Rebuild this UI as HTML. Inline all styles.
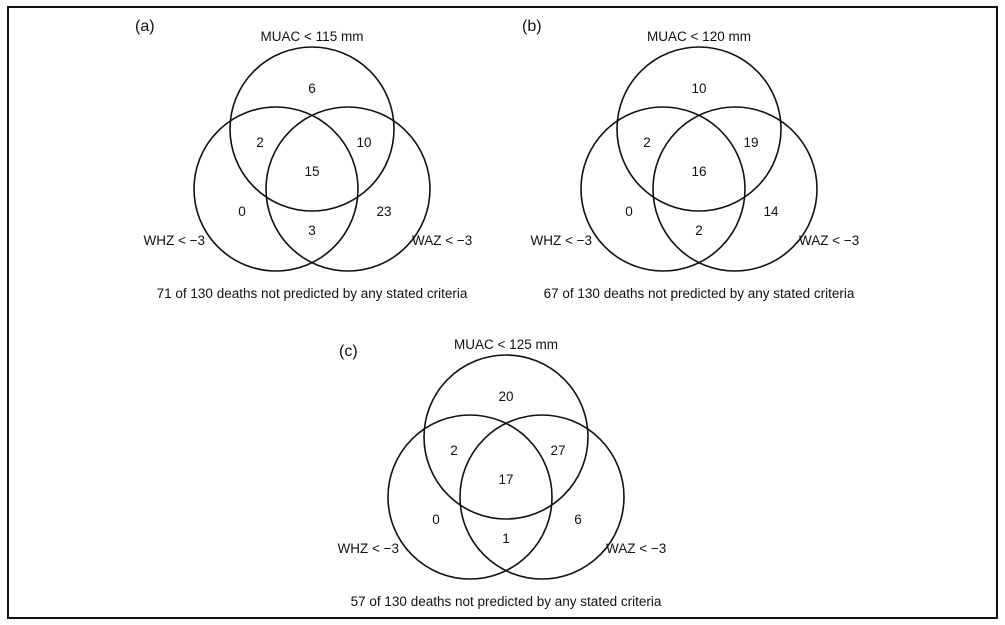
<!DOCTYPE html>
<html><head><meta charset="utf-8"><style>
body{margin:0;background:#fff}
svg{display:block}
text{font-family:"Liberation Sans",Arial,sans-serif;font-size:13.5px;fill:#111}
</style></head><body>
<svg width="1005" height="625" viewBox="0 0 1005 625">
<rect x="8" y="7" width="989" height="611" fill="#fff" stroke="#111" stroke-width="2"/>
<defs>
<g id="v" fill="none" stroke="#111" stroke-width="1.6">
<circle cx="312" cy="129" r="82"/>
<circle cx="276" cy="189" r="82"/>
<circle cx="348" cy="189" r="82"/>
</g>
</defs>
<!-- (a) -->
<g>
<use href="#v"/>
<text x="135" y="31" style="font-size:16px">(a)</text>
<text x="312" y="41" text-anchor="middle">MUAC &lt; 115 mm</text>
<text x="312" y="93" text-anchor="middle">6</text>
<text x="260" y="147" text-anchor="middle">2</text>
<text x="364" y="147" text-anchor="middle">10</text>
<text x="312" y="176" text-anchor="middle">15</text>
<text x="242" y="216" text-anchor="middle">0</text>
<text x="312" y="235" text-anchor="middle">3</text>
<text x="384" y="216" text-anchor="middle">23</text>
<text x="205" y="245" text-anchor="end">WHZ &lt; −3</text>
<text x="412" y="245">WAZ &lt; −3</text>
<text x="312" y="298" text-anchor="middle">71 of 130 deaths not predicted by any stated criteria</text>
</g>
<!-- (b) -->
<g transform="translate(387,0)">
<use href="#v"/>
<text x="135" y="31" style="font-size:16px">(b)</text>
<text x="312" y="41" text-anchor="middle">MUAC &lt; 120 mm</text>
<text x="312" y="93" text-anchor="middle">10</text>
<text x="260" y="147" text-anchor="middle">2</text>
<text x="364" y="147" text-anchor="middle">19</text>
<text x="312" y="176" text-anchor="middle">16</text>
<text x="242" y="216" text-anchor="middle">0</text>
<text x="312" y="235" text-anchor="middle">2</text>
<text x="384" y="216" text-anchor="middle">14</text>
<text x="205" y="245" text-anchor="end">WHZ &lt; −3</text>
<text x="412" y="245">WAZ &lt; −3</text>
<text x="312" y="298" text-anchor="middle">67 of 130 deaths not predicted by any stated criteria</text>
</g>
<!-- (c) -->
<g transform="translate(194,308)">
<use href="#v"/>
<text x="145" y="48" style="font-size:16px">(c)</text>
<text x="312" y="41" text-anchor="middle">MUAC &lt; 125 mm</text>
<text x="312" y="93" text-anchor="middle">20</text>
<text x="260" y="147" text-anchor="middle">2</text>
<text x="364" y="147" text-anchor="middle">27</text>
<text x="312" y="176" text-anchor="middle">17</text>
<text x="242" y="216" text-anchor="middle">0</text>
<text x="312" y="235" text-anchor="middle">1</text>
<text x="384" y="216" text-anchor="middle">6</text>
<text x="205" y="245" text-anchor="end">WHZ &lt; −3</text>
<text x="412" y="245">WAZ &lt; −3</text>
<text x="312" y="298" text-anchor="middle">57 of 130 deaths not predicted by any stated criteria</text>
</g>
</svg>
</body></html>
